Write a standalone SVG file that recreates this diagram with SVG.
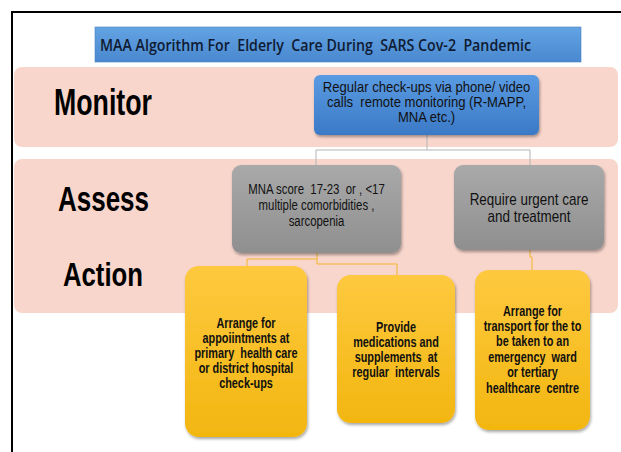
<svg xmlns="http://www.w3.org/2000/svg" width="621" height="452" viewBox="0 0 621 452">
  <defs>
    <linearGradient id="gTitle" x1="0" y1="0" x2="0" y2="1">
      <stop offset="0" stop-color="#63a3e3"/>
      <stop offset="1" stop-color="#4a88cf"/>
    </linearGradient>
    <linearGradient id="gBlue" x1="0" y1="0" x2="0" y2="1">
      <stop offset="0" stop-color="#5a9be2"/>
      <stop offset="1" stop-color="#3b79c6"/>
    </linearGradient>
    <linearGradient id="gGray" x1="0" y1="0" x2="0" y2="1">
      <stop offset="0" stop-color="#a9a9a9"/>
      <stop offset="1" stop-color="#8f8f8f"/>
    </linearGradient>
    <linearGradient id="gGold" x1="0" y1="0" x2="0" y2="1">
      <stop offset="0" stop-color="#fec93f"/>
      <stop offset="1" stop-color="#f2b610"/>
    </linearGradient>
    <filter id="shadow" x="-10%" y="-10%" width="125%" height="125%">
      <feDropShadow dx="1" dy="2" stdDeviation="1.5" flood-color="#000" flood-opacity="0.35"/>
    </filter>
  </defs>
  <style>
    .band { fill: #f8d6cc; }
    .stage { font-family: "Liberation Sans", Arial, sans-serif; font-weight: bold; fill: #000; }
    .txt { font-family: "Liberation Sans", Arial, sans-serif; fill: #111; text-anchor: middle; white-space: pre; }
    .bold { font-weight: bold; }
    .wire-gray { fill: none; stroke: #b3b3b3; stroke-width: 1; }
    .wire-gold { fill: none; stroke: #f0b429; stroke-width: 1; }
  </style>

  <rect width="621" height="452" fill="#ffffff"/>
  <!-- outer frame -->
  <path d="M12 452 V12 H621" fill="none" stroke="#000" stroke-width="2"/>

  <!-- stage bands -->
  <rect class="band" x="14" y="67" width="604" height="80" rx="8"/>
  <rect class="band" x="14" y="159" width="604" height="154" rx="8"/>

  <!-- stage labels -->
  <text class="stage" x="54" y="115" font-size="36" textLength="98" lengthAdjust="spacingAndGlyphs">Monitor</text>
  <text class="stage" x="58" y="211" font-size="35" textLength="91" lengthAdjust="spacingAndGlyphs">Assess</text>
  <text class="stage" x="63" y="286" font-size="34" textLength="80" lengthAdjust="spacingAndGlyphs">Action</text>

  <!-- title -->
  <g id="title">
    <rect x="95" y="27" width="486" height="35" fill="url(#gTitle)" stroke="#4a80c0" stroke-width="0.6"/>
    <text x="100" y="51" font-family="'Open Sans', 'Liberation Sans', sans-serif" font-size="17" font-weight="600" fill="#0f1b33" textLength="431" lengthAdjust="spacingAndGlyphs" style="white-space: pre">MAA Algorithm For  Elderly  Care During  SARS Cov-2  Pandemic</text>
  </g>

  <!-- connectors -->
  <g id="connectors">
    <path class="wire-gray" d="M427 135 V150"/>
    <path class="wire-gray" d="M316 165 V150 H530 V165"/>
    <path class="wire-gold" d="M317 253 V264 H397 V275"/>
    <path class="wire-gold" d="M317 259 H247 V266"/>
    <path class="wire-gold" d="M530 250 V257 H532 V270"/>
  </g>

  <!-- monitor node -->
  <g id="monitor">
    <rect x="314" y="75" width="225" height="60" rx="6" fill="url(#gBlue)" filter="url(#shadow)"/>
    <g transform="translate(426.5 0) scale(0.87 1)" font-size="15">
      <text class="txt" x="0" y="92">Regular check-ups via phone/ video</text>
      <text class="txt" x="0" y="107">calls  remote monitoring (R-MAPP,</text>
      <text class="txt" x="0" y="122">MNA etc.)</text>
    </g>
  </g>

  <!-- assess nodes -->
  <g id="assess-mna">
    <rect x="232" y="165" width="169" height="88" rx="9" fill="url(#gGray)" filter="url(#shadow)"/>
    <g transform="translate(316.5 0) scale(0.76 1)" font-size="15">
      <text class="txt" x="0" y="194">MNA score  17-23  or , &lt;17</text>
      <text class="txt" x="0" y="210">multiple comorbidities ,</text>
      <text class="txt" x="0" y="226">sarcopenia</text>
    </g>
  </g>
  <g id="assess-urgent">
    <rect x="454" y="165" width="150" height="85" rx="9" fill="url(#gGray)" filter="url(#shadow)"/>
    <g transform="translate(529 0) scale(0.84 1)" font-size="16">
      <text class="txt" x="0" y="205">Require urgent care</text>
      <text class="txt" x="0" y="222">and treatment</text>
    </g>
  </g>

  <!-- action nodes -->
  <g id="action-appointments">
    <rect x="185" y="266" width="122" height="171" rx="14" fill="url(#gGold)" filter="url(#shadow)"/>
    <g transform="translate(246 0) scale(0.75 1)" font-size="14.5">
      <text class="txt bold" x="0" y="328">Arrange for</text>
      <text class="txt bold" x="0" y="343">appoiintments at</text>
      <text class="txt bold" x="0" y="358">primary  health care</text>
      <text class="txt bold" x="0" y="373">or district hospital</text>
      <text class="txt bold" x="0" y="388">check-ups</text>
    </g>
  </g>
  <g id="action-medications">
    <rect x="337" y="275" width="118" height="148" rx="14" fill="url(#gGold)" filter="url(#shadow)"/>
    <g transform="translate(396 0) scale(0.75 1)" font-size="14.5">
      <text class="txt bold" x="0" y="332">Provide</text>
      <text class="txt bold" x="0" y="347">medications and</text>
      <text class="txt bold" x="0" y="362">supplements  at</text>
      <text class="txt bold" x="0" y="377">regular  intervals</text>
    </g>
  </g>
  <g id="action-transport">
    <rect x="475" y="270" width="115" height="160" rx="14" fill="url(#gGold)" filter="url(#shadow)"/>
    <g transform="translate(532.5 0) scale(0.75 1)" font-size="14.5">
      <text class="txt bold" x="0" y="316">Arrange for</text>
      <text class="txt bold" x="0" y="331">transport for the to</text>
      <text class="txt bold" x="0" y="346">be taken to an</text>
      <text class="txt bold" x="0" y="362">emergency  ward</text>
      <text class="txt bold" x="0" y="377">or tertiary</text>
      <text class="txt bold" x="0" y="393">healthcare  centre</text>
    </g>
  </g>
</svg>
